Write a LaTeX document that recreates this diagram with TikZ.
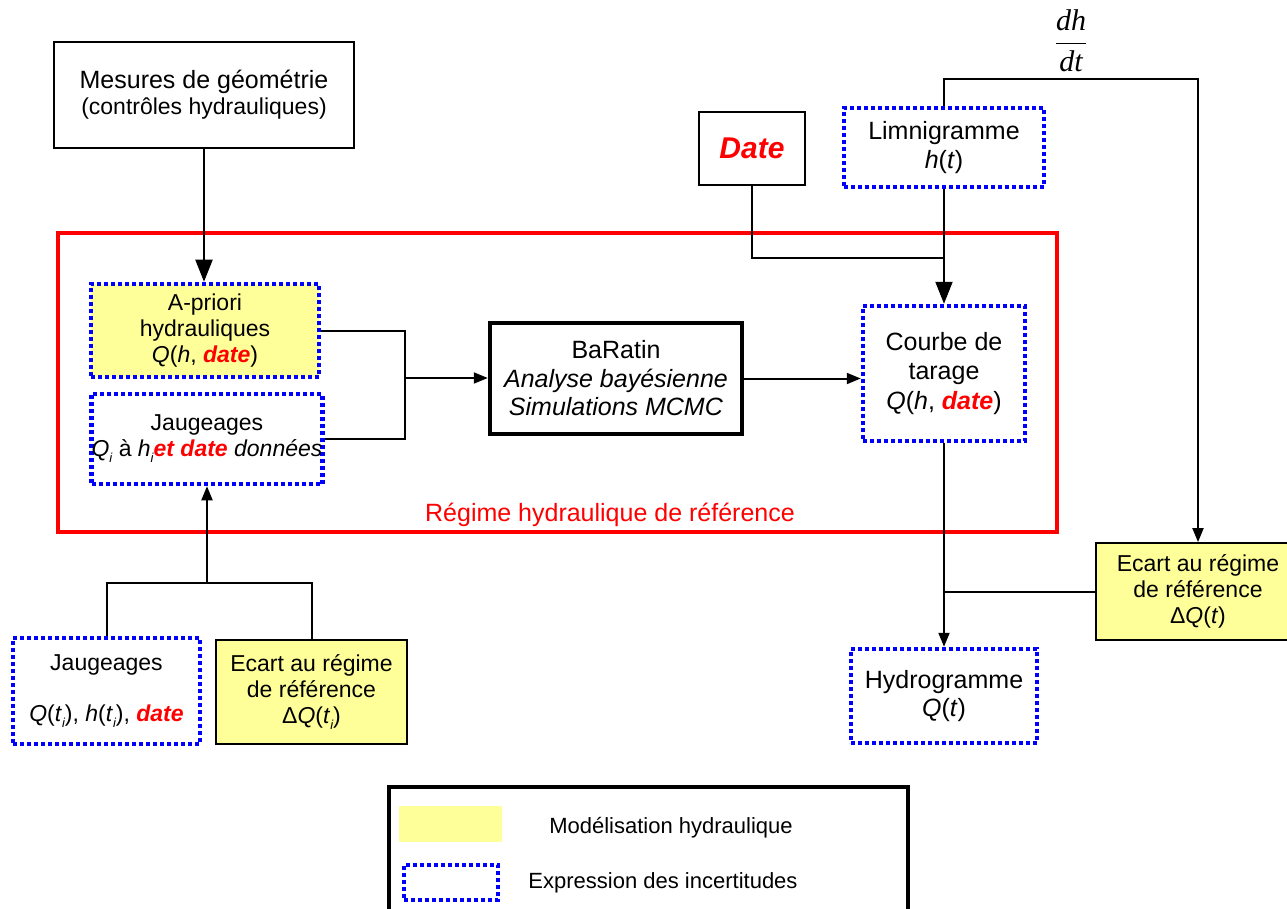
\RequirePackage{fix-cm}
\documentclass[tikz,border=0pt]{standalone}
\usepackage{fontspec}
\usepackage{xcolor}
\usepackage{tikz}
\usetikzlibrary{arrows.meta}
\setmainfont{Liberation Sans}
\newfontfamily\serif{Liberation Serif}

\definecolor{jaune}{RGB}{255,255,153}
\newcommand\corps{\fontsize{23}{26}\selectfont}
\newcommand\grand{\fontsize{25}{28.5}\selectfont}
\newcommand\dateR[1][date]{\textcolor{red}{\bfseries\itshape #1}}
\newcommand\indice[1]{\raisebox{-0.5ex}{\fontsize{13}{13}\selectfont\itshape #1}}

\tikzset{
  boite/.style={draw, line width=1.8pt, align=center, font=\corps, inner sep=0pt},
  incert/.style={boite, draw=blue, line width=4.5pt, dash pattern=on 4pt off 3pt},
  modele/.style={boite, fill=jaune},
  lien/.style={line width=2pt},
  fleche/.style={lien, -{Triangle[length=14pt,width=11pt]}},
  grosse/.style={lien, -{Triangle[length=22pt,width=17pt]}},
}

\begin{document}
\begin{tikzpicture}[x=1pt, y=-1pt]
	\path[use as bounding box, clip] (0,0) rectangle (1287,909);
	\node[boite, minimum width=300, minimum height=106] at (204,95) (mesures)
		{{\grand Mesures de géométrie}\\(contrôles hydrauliques)};
	\node[boite, minimum width=106, minimum height=73] at (752,148.5) (date)
		{\fontsize{30}{32}\selectfont\dateR[Date]};
	\node[incert, font=\grand, minimum width=200, minimum height=79] at (944,147.5) (limni)
		{Limnigramme\\\textit{h}(\textit{t})};
	\draw[red, line width=4pt] (58,233) rectangle (1057,532);
	\node[text=red, font=\grand] at (610,515) (regime) {Régime hydraulique de référence};
	\node[modele, incert, fill=jaune, minimum width=228, minimum height=93] at (205,330.5) (apriori)
		{A-priori\\hydrauliques\\\textit{Q}(\textit{h}, \dateR)};
	\node[incert, minimum width=228, minimum height=90] at (207,439) (jaugin)
		{Jaugeages\\\textit{Q}\indice{i} à \textit{h}\indice{i}\dateR[et date] \textit{données}};
	\node[boite, font=\grand, line width=4.5pt, minimum width=252, minimum height=111] at (616,378.5) (baratin)
		{BaRatin\\\textit{Analyse bayésienne}\\\textit{Simulations MCMC}};
	\node[incert, font=\fontsize{25}{29.5}\selectfont, minimum width=162, minimum height=135] at (944,373.5) (courbe)
		{Courbe de\\tarage\\\textit{Q}(\textit{h}, \dateR)};
	\node[modele, minimum width=204, minimum height=97] at (1198,591.5) (ecartD)
		{Ecart au régime\\de référence\\Δ\textit{Q}(\textit{t})};
	\node[incert, font=\grand, minimum width=186, minimum height=94] at (944,696) (hydro)
		{Hydrogramme\\\textit{Q}(\textit{t})};
	\node[incert, minimum width=187, minimum height=106] at (106.5,691) (jaugbas)
		{Jaugeages\\[25pt]\textit{Q}(\textit{t}\indice{i}), \textit{h}(\textit{t}\indice{i}), \dateR};
	\node[modele, minimum width=191, minimum height=104] at (311.5,692) (ecartG)
		{Ecart au régime\\de référence\\Δ\textit{Q}(\textit{t}\indice{i})};
	\coordinate (jonction) at (405,378);
	\coordinate (fusion) at (944,258);
	\coordinate (bifurc) at (207,583);
	\draw[grosse] (mesures.south) -- (mesures.south |- apriori.north);
	\draw[lien] (apriori.east) -| (jonction) |- (jaugin.east);
	\draw[fleche] (jonction) -- (jonction -| baratin.west);
	\draw[fleche] (baratin.east) -- (baratin.east -| courbe.west);
	\draw[lien] (date.south) |- (fusion);
	\draw[grosse] (limni.south) -- (courbe.north);
	\draw[fleche] (limni.north) |- (1198,79)
		node[above=3pt, pos=0.75, font=\fontsize{30}{32}\selectfont] (derivee)
		{$\displaystyle\frac{\hbox{\serif\itshape dh}}{\hbox{\serif\itshape dt}}$}
		-- (ecartD.north);
	\draw[fleche] (courbe.south) -- (hydro.north);
	\draw[lien] (ecartD.west) -- (ecartD.west -| courbe.south);
	\draw[lien] (jaugbas.north) |- (bifurc) -| (ecartG.north);
	\draw[fleche] (bifurc) -- (jaugin.south);
	\draw[line width=4pt] (389,787) rectangle (908,930);
	\node[fill=jaune, minimum width=103, minimum height=36, inner sep=0pt] at (450.5,824) (legmodele) {};
	\node[font=\fontsize{22}{24}\selectfont] at (671,828) (legtexte1) {Modélisation hydraulique};
	\node[incert, minimum width=94, minimum height=35] at (451,882.5) (legincert) {};
	\node[font=\fontsize{22}{24}\selectfont] at (663,883) (legtexte2) {Expression des incertitudes};
\end{tikzpicture}
\end{document}
